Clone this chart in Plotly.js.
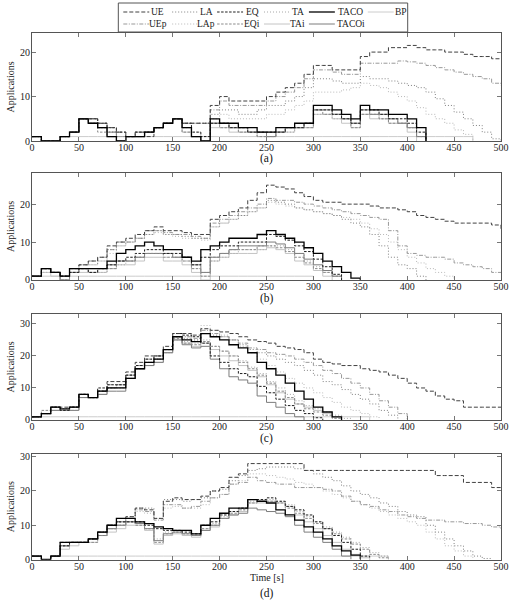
<!DOCTYPE html>
<html>
<head>
<meta charset="utf-8">
<script src="https://cdn.plot.ly/plotly-3.0.1.min.js"></script>
<style>
  html, body { margin: 0; padding: 0; background: #fff; }
  #chart { width: 512px; height: 605px; }
</style>
</head>
<body>
<div id="chart"></div>
<script>
// Time grid in seconds (sample instants of the step traces)
const T = [0,10,20,30,40,50,60,70,80,90,100,110,120,130,140,150,160,170,180,190,200,
           210,220,230,240,250,260,270,280,290,300,310,320,330,340,350,360,370,380,390,400,
           410,420,430,440,450,460,470,480,490,500];

const xTicks = [0,50,100,150,200,250,300,350,400,450,500];

// ---- scenario (a): running applications per policy ----
const a_UE    = [1,0,0,1,2,5,5,4,3,2,1,2,1,3,4,5,4,4,4,8,10,9,9,9,9,10,11,12,13,15,17,17,16,16,16,19,20,20,21,21,21.5,21,20.5,20.5,20,20,19.5,19,19,18.5,18.5];
const a_UEp   = [1,0,0,1,2,5,5,4,2,1,1,2,2,3,4,5,4,4,4,7,9,8,8,8,8,9,10,11,12,14,16,16,15.5,15,15,17.5,17.5,17.5,17.5,18,17.8,17.5,17,16.5,16,15.5,15,14.5,14,13,12.5];
const a_LA    = [1,0,0,1,2,5,5,3,2,1,1,1,2,3,4,5,4,4,4,6,7,7,6,6,7,8,8,9,10,12,14,14,13.5,13,13,14.5,14,14,13.5,13,12.5,12,11,9.5,8,6.5,5,3.5,2,0.5,0];
const a_LAp   = [1,0,0,1,2,5,4,3,2,1,1,1,2,3,4,5,4,4,4,5,6,5,5,5,5,6,6,7,8,9,11,11,11,11.5,12,13,12.5,12,11,10,9,7.5,6,5,4,2.5,1.5,0];
const a_EQ    = [1,0,0,1,2,5,5,4,3,2,1,2,2,3,4,5,4,2,1,4,4,3,3,2,2,2,2,3,3,4,7,7,6,5,4,7,7,6,5,5,4,2,0];
const a_TA    = [1,0,0,1,2,5,4,3,1,0,1,1,2,3,4,5,3,2,1,4,3,3,2,2,1,1,2,2,3,3,6,6,5,5,4,6,6,5,5,4,3,1,0];
const a_TACO  = [1,0,0,1,2,5,4,3,1,0,1,1,2,3,4,5,3,1,0,5,4,4,3,3,2,2,3,3,4,4,8,8,7,6,5,8,7,7,6,6,5,3,0];
const a_EQi   = [1,0,0,1,2,5,4,2,1,0,1,1,2,3,4,5,2,1,0,4,3,3,2,2,1,1,2,3,3,3,7,6,6,5,3,6,6,5,4,4,3,1,0];
const a_TAi   = [1,0,0,1,2,5,4,3,1,0,1,1,2,3,4,5,2,1,0,3,3,2,2,2,1,1,2,2,3,3,6,6,5,4,3,6,5,5,4,4,2,0];
const a_TACOi = [1,0,0,1,2,5,4,3,2,0,1,1,2,3,4,5,3,1,0,4,4,3,3,2,2,1,2,3,3,4,7,7,6,5,4,7,6,6,5,4,3,1,0];
const a_BP    = [1,0,0,1,1,1,1,1,1,1,1,1,1,1,1,1,1,1,1,1,1,1,1,1,1,1,1,1,1,1,1,1,1,1,1,1,1,1,1,1,1,1,1,1,1,1,1,0];

// ---- scenario (b) ----
const b_UE    = [1,3,2,1,3,4,5,6,9,10,11,12,13,14,13,13,12.5,12,12,16,17,18,19,21,23,25,24.5,24,23,22,21,20.5,20.5,20,20,20,19.5,19,19,18.5,18,17,16.5,16,15.5,15,15,15,15,14.5,13.5];
const b_UEp   = [1,3,2,1,3,4,5,6,8,10,10,11,13,13,12.5,12,12,11.5,11,15,16,17,18,19,20,21.5,21,21,20.5,20,19.5,19,18.5,18,17.5,17,16.5,16,13,9,7,6.5,6,6,5.5,4.5,4,3.5,3,2,2];
const b_LA    = [1,3,2,1,3,4,4,5,8,9,10,11,12,13,12,12,11.5,11,11,14,15,16,17,18,19,21,20.5,20,19,18.5,18,17.5,17,16,15,14,12,9,6,4,3,1,0];
const b_LAp   = [1,2,2,1,3,4,4,5,7,9,10,11,12,12.5,12,11.5,11,11,10.5,14,15,16,17,18,19,20.5,20,19.5,19,18.5,18,17.5,17,16.5,16,15,13.5,12,10,8,6,4.5,3,2,1,0];
const b_EQ    = [1,3,2,1,2,3,2,3,4,5,6,7,8,8,7,7,6,4,6,8,9,9,10,10,10,12,11.5,10.5,9,7.5,5.5,3.5,1.5,0];
const b_TA    = [1,2,2,0,2,3,2,2,3,4,5,6,7,7,6,6,5,3,2,5,6,7,8,8,8,9,9,8,7,5,3.5,2,1,0];
const b_TACO  = [1,3,2,1,3,3,3,3,5,7,8,9,10,9,8,8,6,5,8,9,10,11,11,11,12,13,12,11,10,8.5,7,5,3.5,2,0.5,0];
const b_EQi   = [1,3,2,0,2,3,2,3,3,5,5,6,7,7,6,6,5,3,1,6,7,8,8,8,9,9,8.5,7.5,6,4.5,3,2,1,0];
const b_TAi   = [1,2,1,0,2,2,2,2,3,4,4,5,6,6,5,5,4,2,0,5,6,7,7,7,8,8.5,8,7,5,4,2.5,1,0];
const b_TACOi = [1,3,2,0,2,3,3,3,4,5,5,6,7,7,7,6,6,4,2,6,7,8,9,9,9,10,9.5,8.5,7,5.5,4,2.5,1,0];
const b_BP    = [1,1,1,1,1,1,1,1,1,1,1,1,1,1,1,1,1,1,1,1,1,1,1,1,1,1,1,1,1,1,0];

// ---- scenario (c) ----
const c_UE    = [1,2,4,4,4,8,7,9,12,12,15,18,20,20,23,27,27,26.5,28.5,28,27.5,27,26,25,24.5,24,23,22.5,22,21,19,18,17.5,17,17,16,15.5,15,14,13,11.5,10,9,7.5,6.5,6,4,4,4,4,4];
const c_UEp   = [1,2,4,3,4,8,7,9,11,11,14,17,19,20,22,26,26,25.5,28,27,26,25,24,22.5,22,21,20.5,20,19,18,17,15.5,14.5,13,11.5,10,8,6,4,2,0];
const c_LA    = [1,2,4,3.5,4,8,7,9,10,11,14,17,18,19,22,26,25.5,25,27,26.5,26,25,23.5,22,21,20,19,18,17,15.5,14,12,11,9.5,8,6.5,5,3,1.5,0];
const c_LAp   = [1,2,4,3,4,8,7,9,10,10,14,16,18,19,22,26,26,25,29.5,28,26.5,25,23,21,19,17,15,13,11.5,10,8.5,7,5.5,4,3,2,1,0];
const c_EQ    = [1,2,4,3,4,8,7,10,11,11,14,17,19,20,22,27,26.5,26,24,20,18,16,14.5,13.5,10.5,8.5,6.5,4.5,3,2,0.7,0];
const c_TA    = [1,2,4,3,4,7,7,9,10,10,13,16,17,19,21,25,24.5,24,25,23,21.5,20,18.5,16.5,14.5,12,10,8,6,4.5,3.5,2.5,1.5,0.5,0];
const c_TACO  = [1,2,4,3.5,4,8,7,9,10,10,13,16,18,19,22,26,25,24.5,27,26,25,23.5,22.5,21,18,16,14,11.5,9,6.5,4,2.5,1,0];
const c_EQi   = [1,3,4,3,3,8,7,9,10,11,14,16,18,19,22,25.5,24,23.5,24.5,23,21.5,20,18,16,14,11.5,9,7,5,3.5,2.5,1.5,0.5,0];
const c_TAi   = [1,2,3,3,4,7,7,8,10,10,13,16,17,18,21,25,24,23,24,22,20,18.5,17,15.5,13.5,11,8.5,6.5,5,4,3,2,1,0];
const c_TACOi = [1,2,3,3,3,7,7,8,9,9,13,16,17,18,21,25,23.5,22.5,23,19,16,13.5,12.5,11.5,7.5,5.5,4,2,1,0];
const c_BP    = [1,1,1,1,1,1,1,1,1,1,1,1,1,1,1,1,1,1,1,1,1,1,1,1,1,1,1,1,1,1,1,1,1,1,1,1,0];

// ---- scenario (d) ----
const d_UE    = [1,0,1,5,5,5,6,8,10,11,12.5,15,14.5,12,17,18,17.5,17.5,18.5,20,21,24,25,28,28,28,28,28,28,26,26,26,26,26,26,26,26,26,26,26,26,26,26,24.5,24.5,24.5,22.5,22.5,22.5,21,21];
const d_UEp   = [1,0,1,4,5,5,6,8,10,11,12,14.5,14,11.5,16,16,15,15.5,17,18,19,22,22.5,24,23,22.5,22,22,21,21,21,20.5,20,18.5,17,16,15.5,14.5,14,13,12.5,12,11.5,11.5,11,11,10.5,10.5,10,9.5,9];
const d_LA    = [1,0,1,5,5,5,6,8,10,11,12.5,15,15,12,17.5,17.5,17,17.5,18,20,20.5,23,24.5,26,26.5,27,27,27,26.5,26,25,24,23,21.5,20,19,18,16.5,15.5,14,13,12.5,10,8,6,4,2.5,1,0.3,0];
const d_LAp   = [1,0,1,4,5,5,6,7,9,10,12,14,13.5,12,15,15.5,15,15,16,18,19,22,23,25,25,24.5,24,23.5,22.5,22,21,20,19,18,17,16,15,14,13,12,11,10,8,6,4,2.5,1,0];
const d_EQ    = [1,0,1,4,5,5,6,8,10,11,11,11,10,9,8.5,8.5,8,7.5,10,11,13,14,15,17.5,17.5,18,17,15.5,14.5,13,11,9,7,5,3,1,0];
const d_TA    = [1,0,1,4,5,5,6,7,9,10,11,10.5,9,6,8,8,7.5,7,9,10.5,12.5,14,14.5,17,17,17.5,17,16,14,12.5,11,9.5,8,6.5,5,3.5,2,1,0];
const d_TACO  = [1,0,1,5,5,5,6,8,10,12,12,11,10.5,9.5,9,8.5,8.5,7.5,10,12,13.5,15,15,17.5,17,16.5,14.5,13,11.5,9.5,8,6,4,2.5,1.3,0];
const d_EQi   = [1,0,1,4,5,5,5,7,9,10,11,10,9,5,7.5,8,7.5,7,9,10,12,13.5,14.5,16.5,17,17,16.5,15,13.5,12,10.5,9,7.5,6,4.5,3,1.5,0.5,0];
const d_TAi   = [1,0,1,3,4,5,5,7,8,9,10,10,8.5,4.5,7,7.5,7,6.5,8.5,9.5,12,13,14,16.5,16.5,17,16.5,15.5,13,11,9,7,5,3,1.5,0.5,0];
const d_TACOi = [1,0,1,4,5,5,6,7,9,10,11,10.5,9,5.5,7.5,8,7.5,7,8.5,10,12,13,13.5,15,14.5,14,13.5,12.5,10,8,6.5,5,3,1,0];
const d_BP    = [1,0,1,1,1,1,1,1,1,1,1,1,1,1,1,1,1,1,1,1,1,1,1,1,1,1,1,1,1,1,1,1,1,1,1,1,1,1,0];

const panels = [
  {UE:a_UE, LA:a_LA, EQ:a_EQ, TA:a_TA, TACO:a_TACO, BP:a_BP, UEp:a_UEp, LAp:a_LAp, EQi:a_EQi, TAi:a_TAi, TACOi:a_TACOi},
  {UE:b_UE, LA:b_LA, EQ:b_EQ, TA:b_TA, TACO:b_TACO, BP:b_BP, UEp:b_UEp, LAp:b_LAp, EQi:b_EQi, TAi:b_TAi, TACOi:b_TACOi},
  {UE:c_UE, LA:c_LA, EQ:c_EQ, TA:c_TA, TACO:c_TACO, BP:c_BP, UEp:c_UEp, LAp:c_LAp, EQi:c_EQi, TAi:c_TAi, TACOi:c_TACOi},
  {UE:d_UE, LA:d_LA, EQ:d_EQ, TA:d_TA, TACO:d_TACO, BP:d_BP, UEp:d_UEp, LAp:d_LAp, EQi:d_EQi, TAi:d_TAi, TACOi:d_TACOi}
];

// Line styles per policy (grayscale print style)
const styles = {
  UE:    {color:'#404040', width:1,   dash:'4px,2px'},
  LA:    {color:'#808080', width:1,   dash:'1px,2px'},
  EQ:    {color:'#1e1e1e', width:1,   dash:'2.5px,1.5px'},
  TA:    {color:'#a8a8a8', width:1,   dash:'1px,2px'},
  TACO:  {color:'#000000', width:1.3, dash:'solid'},
  BP:    {color:'#cccccc', width:1,   dash:'solid'},
  UEp:   {color:'#999999', width:1,   dash:'4px,1.5px,1px,1.5px'},
  LAp:   {color:'#b8b8b8', width:1,   dash:'1px,2px'},
  EQi:   {color:'#8a8a8a', width:1,   dash:'2.5px,1.5px'},
  TAi:   {color:'#c4c4c4', width:1,   dash:'solid'},
  TACOi: {color:'#7c7c7c', width:1,   dash:'solid'}
};

// light traces first so the dark ones sit on top
const drawOrder = ['BP','TAi','TA','LAp','TACOi','EQi','UEp','LA','EQ','UE','TACO'];
const legendRows = [['UE','LA','EQ','TA','TACO','BP'], ['UEp','LAp','EQi','TAi','TACOi']];

const yMax = [24.3, 28.2, 33.1, 30.8];
const yTicks = [[0,10,20],[0,10,20],[0,10,20,30],[0,10,20,30]];
const domains = [[0.7669,0.9455],[0.5372,0.7140],[0.3058,0.4810],[0.0752,0.2496]];
const panelTags = ['(a)','(b)','(c)','(d)'];

const FONT = "'Liberation Serif', serif";
const W = 512, H = 605, ML = 31.5, MR = 10.5;
const px2x = px => (px - ML) / (W - ML - MR);
const px2y = py => (H - py) / H;

const traces = [];
panels.forEach((p, i) => {
  const sfx = i === 0 ? '' : String(i + 1);
  drawOrder.forEach(name => {
    const vals = p[name];
    const st = styles[name];
    traces.push({
      type: 'scatter', mode: 'lines', name: name,
      x: T.slice(0, vals.length), y: vals,
      xaxis: 'x' + sfx, yaxis: 'y' + sfx,
      line: {shape: 'hv', color: st.color, width: st.width, dash: st.dash},
      showlegend: false, hoverinfo: 'skip'
    });
  });
});

const layout = {
  width: W, height: H,
  margin: {l: ML, r: MR, t: 0, b: 0},
  paper_bgcolor: '#fff', plot_bgcolor: '#fff',
  font: {family: FONT, size: 10, color: '#222'},
  showlegend: false,
  shapes: [], annotations: []
};

const axisCommon = {
  ticks: 'inside', ticklen: 4, tickwidth: 0.8, tickcolor: '#555',
  showline: true, linecolor: '#555', linewidth: 1, mirror: 'ticks',
  showgrid: false, zeroline: false, fixedrange: true, automargin: false,
  tickfont: {family: FONT, size: 10, color: '#222'}
};

for (let i = 0; i < 4; i++) {
  const sfx = i === 0 ? '' : String(i + 1);
  layout['xaxis' + sfx] = Object.assign({}, axisCommon, {
    domain: [0, 1], range: [0, 500], anchor: 'y' + sfx,
    tickmode: 'array', tickvals: xTicks, ticktext: xTicks.map(String),
    ticklabelstandoff: -3
  });
  layout['yaxis' + sfx] = Object.assign({}, axisCommon, {
    domain: domains[i], range: [0, yMax[i]], anchor: 'x' + sfx,
    tickmode: 'array', tickvals: yTicks[i], ticktext: yTicks[i].map(String),
    ticklabelstandoff: -1
  });
  layout.annotations.push({
    xref: 'paper', yref: 'paper', x: px2x(10), y: (domains[i][0] + domains[i][1]) / 2,
    text: 'Applications', textangle: -90, showarrow: false,
    font: {family: FONT, size: 10, color: '#222'}, xanchor: 'center', yanchor: 'middle'
  });
}

// panel captions and time axis label
const tagY = [159, 299, 438, 593];
panelTags.forEach((t, i) => {
  layout.annotations.push({
    xref: 'paper', yref: 'paper', x: 0.5, y: px2y(tagY[i]), text: t, showarrow: false,
    font: {family: FONT, size: 11.5, color: '#111'}, xanchor: 'center', yanchor: 'middle'
  });
});
layout.annotations.push({
  xref: 'paper', yref: 'paper', x: 0.5, y: px2y(577), text: 'Time [s]', showarrow: false,
  font: {family: FONT, size: 10, color: '#222'}, xanchor: 'center', yanchor: 'middle'
});

// legend box drawn above the first panel
layout.shapes.push({
  type: 'rect', xref: 'paper', yref: 'paper',
  x0: px2x(118), x1: px2x(408), y0: px2y(32), y1: px2y(3),
  line: {color: '#555', width: 1}, fillcolor: '#fff'
});
const colLine = [123, 172, 217, 264, 309, 368];
const colText = [157.5, 206, 252, 298, 351, 401];
const rowY = [12, 24];
legendRows.forEach((row, r) => {
  row.forEach((name, c) => {
    const st = styles[name];
    layout.shapes.push({
      type: 'line', xref: 'paper', yref: 'paper',
      x0: px2x(colLine[c]), x1: px2x(colLine[c] + 26), y0: px2y(rowY[r]), y1: px2y(rowY[r]),
      line: {color: st.color, width: st.width, dash: st.dash}
    });
    layout.annotations.push({
      xref: 'paper', yref: 'paper', x: px2x(colText[c]), y: px2y(rowY[r]),
      text: name, showarrow: false, xanchor: 'center', yanchor: 'middle',
      font: {family: FONT, size: 9.5, color: '#222'}
    });
  });
});

Plotly.newPlot('chart', traces, layout, {staticPlot: true, displayModeBar: false});
</script>
</body>
</html>
